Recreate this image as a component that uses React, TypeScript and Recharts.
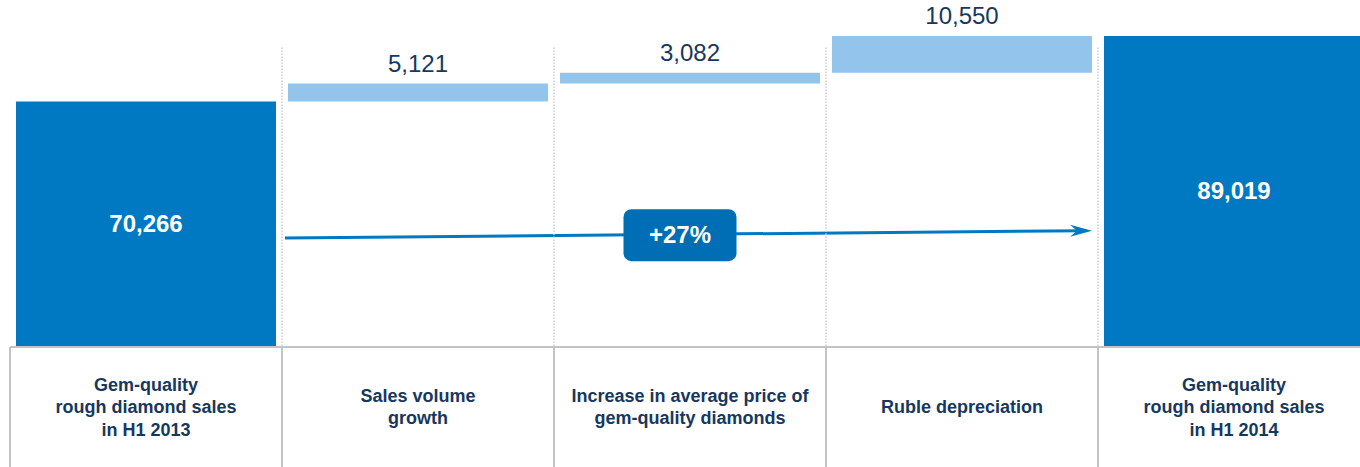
import { ComposedChart, Bar, Cell, XAxis, YAxis, LabelList, ReferenceLine, ReferenceDot } from 'recharts';

const categories = [
  'Gem-quality\nrough diamond sales\nin H1 2013',
  'Sales volume\ngrowth',
  'Increase in average price of\ngem-quality diamonds',
  'Ruble depreciation',
  'Gem-quality\nrough diamond sales\nin H1 2014',
];
const values = [70266, 5121, 3082, 10550, 89019];
const isTotal = [true, false, false, false, true];
const growthLabel = '+27%';
// level of the growth arrow at its start / end (same units as values)
const arrowLevels = [31200, 33300];
const boxLevel = 32000;

// waterfall: invisible base under each step
let running = 0;
const data = categories.map((name, i) => {
  const base = isTotal[i] ? 0 : running;
  running = isTotal[i] ? values[i] : running + values[i];
  return { name, base, value: values[i] };
});

const W = 1370;
const H = 467;
const LEFT = 10;
const AXIS_H = 120;
const BAND = (W - LEFT) / categories.length;
const FONT = '"Liberation Sans", Arial, sans-serif';
const NAVY = '#17375e';
const DARK = '#0079c2';
const LIGHT = '#93c5ec';
const GRID = '#c4c4c4';

const fmt = (v: number) => v.toLocaleString('en-US');

function CategoryTick(props: any) {
  const { x, y, payload } = props;
  const lines = String(payload.value).split('\n');
  const left = x - BAND / 2;
  const lh = 22.5;
  const first = y + 60 - ((lines.length - 1) * lh) / 2 + 6;
  return (
    <g>
      <line x1={left} y1={y} x2={left} y2={y + AXIS_H} stroke={GRID} strokeWidth={2} />
      {payload.index > 0 && (
        <line x1={left} y1={y - 1} x2={left} y2={47} stroke="#cfcfcf" strokeWidth={1.5} strokeDasharray="1.5 1.5" />
      )}
      <text x={x} y={first} textAnchor="middle" fill={NAVY} fontFamily={FONT} fontSize={18} fontWeight="bold">
        {lines.map((l, i) => (
          <tspan key={i} x={x} y={first + i * lh}>
            {l}
          </tspan>
        ))}
      </text>
    </g>
  );
}

function ValueLabel(props: any) {
  const { x, y, width, height, value, index } = props;
  if (isTotal[index]) {
    return (
      <text x={x + width / 2} y={y + height / 2 + 8} textAnchor="middle" fill="#fff" fontFamily={FONT} fontSize={24} fontWeight="bold">
        {fmt(value)}
      </text>
    );
  }
  return (
    <text x={x + width / 2} y={y - 12} textAnchor="middle" fill={NAVY} fontFamily={FONT} fontSize={24}>
      {fmt(value)}
    </text>
  );
}

// segment runs between first and last category centres; pull ends to the band edges
function Arrow(props: any) {
  const { x1: cx1, y1, x2: cx2, y2 } = props;
  const x1 = cx1 + BAND / 2 + 3;
  const x2 = cx2 - BAND / 2 - 6;
  const a = Math.atan2(y2 - y1, x2 - x1);
  const pt = (d: number, o: number) =>
    `${x2 - d * Math.cos(a) - o * Math.sin(a)},${y2 - d * Math.sin(a) + o * Math.cos(a)}`;
  return (
    <g>
      <line x1={x1} y1={y1} x2={x2 - 8 * Math.cos(a)} y2={y2 - 8 * Math.sin(a)} stroke={DARK} strokeWidth={3} />
      <polygon points={`${x2},${y2} ${pt(22, -6)} ${pt(15, 0)} ${pt(22, 6)}`} fill={DARK} />
    </g>
  );
}

function GrowthBox(props: any) {
  const { cx, cy } = props;
  const w = 113;
  const h = 52;
  const x = cx - 10;
  return (
    <g>
      <rect x={x - w / 2} y={cy - h / 2} width={w} height={h} rx={8} fill="#006eb5" />
      <text x={x} y={cy + 8} textAnchor="middle" fill="#fff" fontFamily={FONT} fontSize={24} fontWeight="bold">
        {growthLabel}
      </text>
    </g>
  );
}

export default function App() {
  return (
    <div style={{ position: 'absolute', left: 0, top: 0, width: 1360, height: H, overflow: 'hidden', background: '#fff' }}>
      <ComposedChart width={W} height={H} data={data} margin={{ top: 0, right: 0, bottom: 0, left: LEFT }}>
        <XAxis
          dataKey="name"
          height={AXIS_H}
          interval={0}
          tickSize={0}
          tickMargin={0}
          tickLine={false}
          axisLine={{ stroke: GRID, strokeWidth: 2 }}
          tick={<CategoryTick />}
        />
        <YAxis hide domain={[0, 99300]} allowDataOverflow />
        <Bar dataKey="base" stackId="w" fill="transparent" barSize={260} isAnimationActive={false} />
        <Bar dataKey="value" stackId="w" barSize={260} isAnimationActive={false}>
          {data.map((_, i) => (
            <Cell key={i} fill={isTotal[i] ? DARK : LIGHT} />
          ))}
          <LabelList dataKey="value" content={<ValueLabel />} />
        </Bar>
        <ReferenceLine
          segment={[
            { x: categories[0], y: arrowLevels[0] },
            { x: categories[categories.length - 1], y: arrowLevels[1] },
          ]}
          shape={<Arrow />}
        />
        <ReferenceDot x={categories[2]} y={boxLevel} r={1} shape={<GrowthBox />} />
      </ComposedChart>
    </div>
  );
}
